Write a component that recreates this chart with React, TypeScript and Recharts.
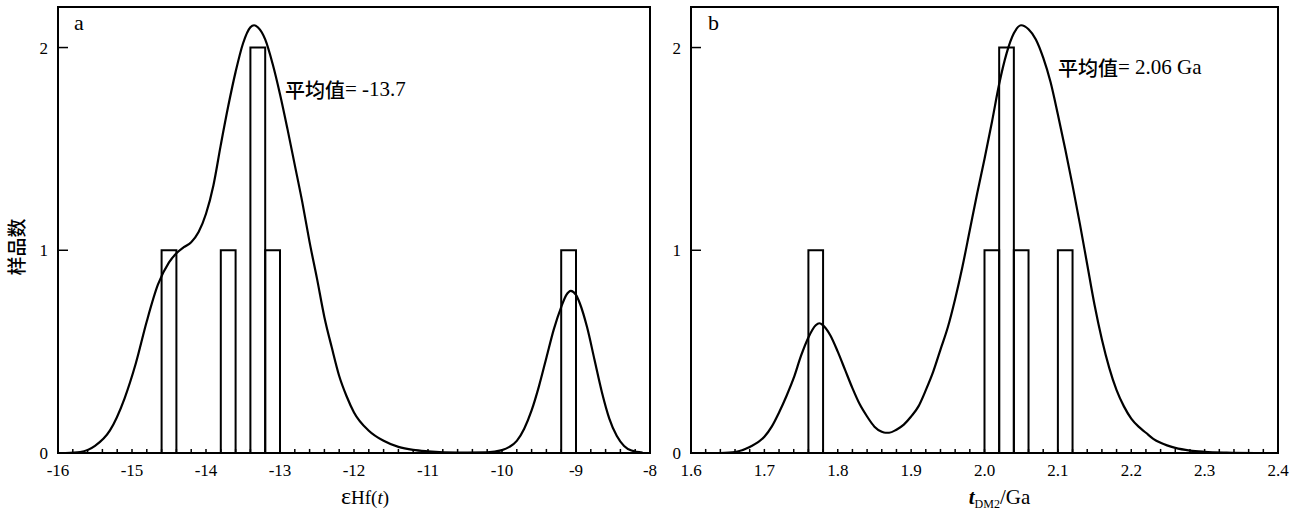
import React from "react";
import { ComposedChart, Line, XAxis, YAxis, ReferenceArea, ReferenceLine, ReferenceDot } from "recharts";

// panel a: εHf(t)
const hfX = [-15.9, -15.7, -15.5, -15.3, -15.1, -14.95, -14.8, -14.65, -14.5, -14.4, -14.3, -14.2, -14.1, -14.0, -13.9, -13.8, -13.7, -13.6, -13.5, -13.4, -13.35, -13.3, -13.2, -13.1, -13.0, -12.9, -12.8, -12.7, -12.6, -12.5, -12.4, -12.3, -12.2, -12.1, -12.0, -11.8, -11.6, -11.4, -11.2, -11.0, -10.6, -10.2, -10.0, -9.9, -9.8, -9.7, -9.6, -9.5, -9.4, -9.3, -9.2, -9.13, -9.07, -9.0, -8.95, -8.85, -8.75, -8.65, -8.55, -8.45, -8.35, -8.25, -8.1];
const hfDensity = [0.0, 0.005, 0.035, 0.11, 0.27, 0.44, 0.65, 0.83, 0.94, 0.985, 1.015, 1.04, 1.09, 1.18, 1.32, 1.52, 1.71, 1.88, 2.02, 2.10, 2.11, 2.10, 2.04, 1.92, 1.77, 1.60, 1.42, 1.24, 1.04, 0.86, 0.67, 0.52, 0.38, 0.28, 0.2, 0.11, 0.06, 0.03, 0.015, 0.008, 0.002, 0.003, 0.014, 0.03, 0.06, 0.12, 0.21, 0.33, 0.47, 0.61, 0.72, 0.78, 0.8, 0.78, 0.74, 0.62, 0.46, 0.3, 0.17, 0.085, 0.035, 0.012, 0.002];
const hfBinStart = [-14.6, -13.8, -13.4, -13.2, -9.2];
const hfBinCount = [1, 1, 2, 1, 1];
const hfTicks = [-16, -15, -14, -13, -12, -11, -10, -9, -8];

// panel b: tDM2
const tdmX = [1.64, 1.66, 1.68, 1.7, 1.71, 1.72, 1.73, 1.74, 1.75, 1.76, 1.77, 1.775, 1.78, 1.79, 1.8, 1.81, 1.82, 1.83, 1.84, 1.85, 1.86, 1.865, 1.87, 1.88, 1.89, 1.9, 1.91, 1.92, 1.93, 1.94, 1.95, 1.96, 1.97, 1.98, 1.99, 2.0, 2.01, 2.02, 2.03, 2.04, 2.05, 2.06, 2.07, 2.08, 2.09, 2.1, 2.11, 2.12, 2.13, 2.14, 2.15, 2.16, 2.17, 2.18, 2.19, 2.2, 2.21, 2.22, 2.23, 2.24, 2.26, 2.28, 2.3, 2.33, 2.37];
const tdmDensity = [0, 0.005, 0.03, 0.08, 0.13, 0.2, 0.28, 0.37, 0.48, 0.57, 0.63, 0.64, 0.63, 0.58, 0.5, 0.41, 0.32, 0.24, 0.18, 0.13, 0.105, 0.1, 0.1, 0.115, 0.14, 0.18, 0.23, 0.31, 0.4, 0.51, 0.62, 0.76, 0.92, 1.1, 1.28, 1.45, 1.63, 1.82, 1.97, 2.07, 2.11, 2.09, 2.04, 1.95, 1.83, 1.67, 1.5, 1.32, 1.13, 0.93, 0.73, 0.56, 0.42, 0.31, 0.23, 0.17, 0.13, 0.1, 0.07, 0.05, 0.025, 0.012, 0.006, 0.002, 0];
const tdmBinStart = [1.76, 2.0, 2.02, 2.04, 2.1];
const tdmBinCount = [1, 1, 2, 1, 1];
const tdmTicks = [1.6, 1.7, 1.8, 1.9, 2.0, 2.1, 2.2, 2.3, 2.4];

const countTicks = [0, 1, 2];

const SERIF = "Liberation Serif, Tinos, DejaVu Serif, Times New Roman, serif";
const CJK = "Noto Sans CJK SC, sans-serif";

const hfMinor = Array.from({ length: 41 }, (_, i) => -16 + i * 0.2);
const tdmMinor = Array.from({ length: 41 }, (_, i) => 1.6 + i * 0.02);

function PlainText({ viewBox, children, anchor = "start", size = 20, baseline = "auto" }: any) {
  return (
    <text x={viewBox.x} y={viewBox.y} textAnchor={anchor} fill="#000" dominantBaseline={baseline}
      style={{ fontFamily: SERIF, fontSize: size }}>
      {children}
    </text>
  );
}

function Panel(props: any) {
  const { width, left, yWidth, right, xs, ys, binStart, binCount, binW, ticks, minor, domain, yTickLen, letter, letterX, meanX, meanY, meanValue, xLabel, xLabelDx, showYLabel } = props;
  const data = xs.map((x: number, i: number) => ({ x, y: ys[i] }));
  const fmt = (v: number) => (domain[0] > 0 ? v.toFixed(1) : String(v));
  const tickStyle = { fill: "#000", fontSize: 17, style: { fontFamily: SERIF } };
  return (
    <div style={{ position: "absolute", left, top: 0, fontFamily: SERIF }}>
      <ComposedChart width={width} height={511} data={data} margin={{ top: 7, right, bottom: 0, left: 0 }}
        style={{ fontFamily: SERIF }}>
        <XAxis
          dataKey="x"
          type="number"
          domain={domain}
          ticks={ticks}
          interval={0}
          allowDataOverflow
          height={58}
          tickSize={0}
          tickMargin={11}
          tickLine={false}
          tickFormatter={fmt}
          axisLine={{ stroke: "#000", strokeWidth: 2 }}
          tick={tickStyle}
          label={{
            content: (p: any) => {
              const vb = p.viewBox;
              return (
                <text x={vb.x + vb.width / 2 + xLabelDx} y={vb.y + 51} textAnchor="middle" fill="#000" style={{ fontFamily: SERIF }}>
                  {xLabel}
                </text>
              );
            },
          }}
        />
        <YAxis
          type="number"
          domain={[0, 2.2]}
          ticks={countTicks}
          allowDataOverflow
          width={yWidth}
          tickSize={0}
          tickMargin={10}
          tickLine={false}
          axisLine={{ stroke: "#000", strokeWidth: 2 }}
          tick={tickStyle}
          label={
            showYLabel
              ? {
                  content: (p: any) => {
                    const vb = p.viewBox;
                    const cy = vb.y + vb.height / 2 + 17;
                    return (
                      <text x={15} y={cy} transform={`rotate(-90 15 ${cy})`} textAnchor="middle" dominantBaseline="central" fill="#000"
                        style={{ fontFamily: CJK, fontSize: 19, fontWeight: 500 }}>
                        样品数
                      </text>
                    );
                  },
                }
              : undefined
          }
        />
        <ReferenceArea x1={domain[0]} x2={domain[1]} y1={0} y2={2.2} fill="none" stroke="#000" strokeWidth={2} ifOverflow="visible" />
        {minor.map((t: number) => (
          <ReferenceLine key={"m" + t} segment={[{ x: t, y: 0 }, { x: t, y: 0.02 }]} stroke="#000" strokeWidth={1.5} ifOverflow="visible" />
        ))}
        {countTicks.map((t) => (
          <ReferenceLine key={"y" + t} segment={[{ x: domain[0], y: t }, { x: domain[0] + yTickLen, y: t }]} stroke="#000" strokeWidth={1.5} ifOverflow="visible" />
        ))}
        {binStart.map((b: number, i: number) => (
          <ReferenceArea key={"b" + i} x1={b} x2={b + binW} y1={0} y2={binCount[i]} fill="none" fillOpacity={0} stroke="#000" strokeWidth={2} ifOverflow="visible" />
        ))}
        <Line type="monotone" dataKey="y" stroke="#000" strokeWidth={2.2} dot={false} isAnimationActive={false} />
        <ReferenceDot x={letterX} y={2.084} r={1} fill="none" stroke="none" ifOverflow="visible"
          label={{ content: (p: any) => <PlainText viewBox={p.viewBox} size={22}>{letter}</PlainText> }} />
        <ReferenceDot x={meanX} y={meanY} r={1} fill="none" stroke="none" ifOverflow="visible"
          label={{
            content: (p: any) => (
              <PlainText viewBox={p.viewBox} size={21} baseline="central">
                <tspan style={{ fontFamily: CJK, fontSize: 20, fontWeight: 500 }}>平均值</tspan>
                <tspan>{meanValue}</tspan>
              </PlainText>
            ),
          }} />
      </ComposedChart>
    </div>
  );
}

export default function App() {
  return (
    <div style={{ position: "absolute", left: 0, top: 0, width: 1298, height: 511, background: "#fff" }}>
      <Panel
        width={660} left={0} yWidth={58} right={10}
        xs={hfX} ys={hfDensity} binStart={hfBinStart} binCount={hfBinCount} binW={0.2}
        ticks={hfTicks} minor={hfMinor} domain={[-16, -8]} yTickLen={0.135}
        letter="a" letterX={-15.77} meanX={-12.92} meanY={1.79} meanValue="= -13.7"
        xLabelDx={11} showYLabel
        xLabel={
          <>
            <tspan style={{ fontSize: 24 }}>ε</tspan>
            <tspan style={{ fontSize: 19 }}>Hf(</tspan>
            <tspan style={{ fontSize: 19, fontStyle: "italic" }}>t</tspan>
            <tspan style={{ fontSize: 19 }}>)</tspan>
          </>
        }
      />
      <Panel
        width={638} left={660} yWidth={31} right={20}
        xs={tdmX} ys={tdmDensity} binStart={tdmBinStart} binCount={tdmBinCount} binW={0.02}
        ticks={tdmTicks} minor={tdmMinor} domain={[1.6, 2.4]} yTickLen={0.0136}
        letter="b" letterX={1.6245} meanX={2.1015} meanY={1.9} meanValue="= 2.06 Ga"
        xLabelDx={15} showYLabel={false}
        xLabel={
          <>
            <tspan style={{ fontSize: 21, fontStyle: "italic", fontWeight: "bold" }}>t</tspan>
            <tspan style={{ fontSize: 12 }} dy={4}>DM2</tspan>
            <tspan style={{ fontSize: 21 }} dy={-4}>/Ga</tspan>
          </>
        }
      />
    </div>
  );
}
